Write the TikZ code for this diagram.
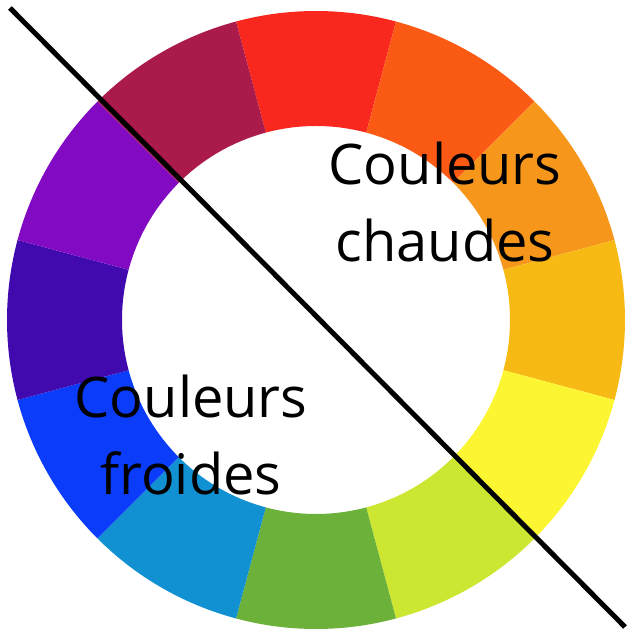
\documentclass[tikz,border=0pt]{standalone}
\usepackage{fontspec}
\setmainfont{Open Sans}
\usepackage{xcolor}

% wheel colours, clockwise from the top
\definecolor{wRed}{HTML}{F8281E}
\definecolor{wRedOrange}{HTML}{FA5A14}
\definecolor{wOrange}{HTML}{F6961A}
\definecolor{wAmber}{HTML}{F7BA14}
\definecolor{wYellow}{HTML}{FCF532}
\definecolor{wLime}{HTML}{CDE632}
\definecolor{wGreen}{HTML}{6CB23A}
\definecolor{wTeal}{HTML}{1291D2}
\definecolor{wBlue}{HTML}{0A3CFA}
\definecolor{wIndigo}{HTML}{410AAF}
\definecolor{wViolet}{HTML}{820AC3}
\definecolor{wCrimson}{HTML}{AA1A4B}

\begin{document}
\begin{tikzpicture}[
    x=1pt, y=1pt,
    label/.style={
        align=center,
        font=\fontsize{56}{77}\selectfont,
        text=black,
        inner sep=0pt,
        anchor=base
    },
    divider/.style={
        draw,
        line width=5pt,
        color=black
    }
]

    \useasboundingbox (0,0) rectangle (630,629);

    % --- Wheel ---
    \coordinate (centre) at (316,309);
    \foreach \ang/\col in {90/wRed, 60/wRedOrange, 30/wOrange, 0/wAmber,
        -30/wYellow, -60/wLime, -90/wGreen, -120/wTeal, -150/wBlue,
        -180/wIndigo, -210/wViolet, -240/wCrimson} {
        \fill [\col] ([shift={(\ang+15:309)}]centre)
            arc [start angle=\ang+15, end angle=\ang-15, radius=309]
            -- ([shift={(\ang-15:194)}]centre)
            arc [start angle=\ang-15, end angle=\ang+15, radius=194]
            -- cycle;
    }

    % --- Labels (base = baseline of the last line) ---
    \node [label] (warm) at (445,367) {Couleurs\\chaudes};
    \node [label] (cold) at (191,134) {Couleurs\\froides};

    % --- Divider ---
    \coordinate (topleft) at (10,621);
    \coordinate (botright) at (625,2);
    \path [divider] (topleft) -- (botright);

\end{tikzpicture}
\end{document}
